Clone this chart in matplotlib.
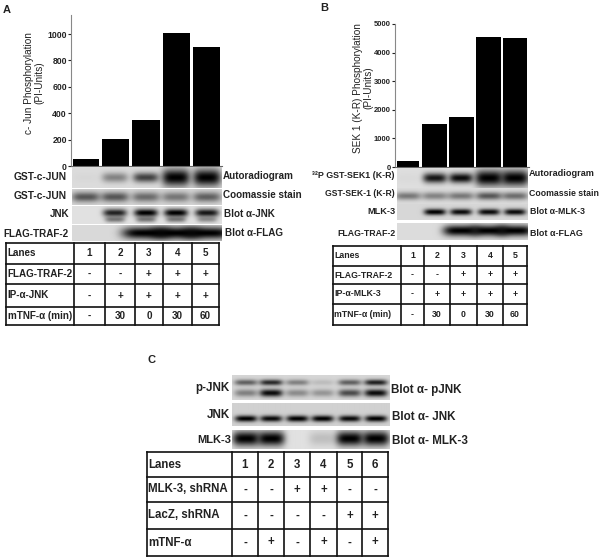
#! /usr/bin/env python

import numpy as np
import matplotlib
matplotlib.use("Agg")
import matplotlib.pyplot as plt

W, H = 602, 560

# bar values
jun_values = [50, 205, 350, 1005, 905]
sek_values = [220, 1500, 1750, 4560, 4520]
jun_ticks = [0, 200, 400, 600, 800, 1000]
sek_ticks = [0, 1000, 2000, 3000, 4000, 5000]

# band darkness per lane, 0 = no band, 1 = black
a_auto = [0.02, 0.4, 0.7, 0.0, 0.0]
a_auto_big = [0.0, 0.0, 0.0, 1.0, 1.0]
a_coom = [0.6, 0.6, 0.5, 0.45, 0.55]
a_jnk = [0.0, 0.85, 1.0, 1.0, 0.9]
a_jnk2 = [0.0, 0.45, 0.45, 0.45, 0.35]
a_flag = [0.0, 0.0, 1.0, 1.0, 1.0]

b_auto = [0.02, 0.9, 0.95, 0.0, 0.0]
b_auto_big = [0.0, 0.0, 0.0, 1.0, 1.0]
b_coom = [0.45, 0.4, 0.45, 0.6, 0.5]
b_mlk = [0.0, 1.0, 0.95, 0.95, 0.95]
b_flag = [0.0, 0.0, 1.0, 1.0, 1.0]

c_pjnk_up = [0.55, 0.8, 0.4, 0.12, 0.55, 0.85]
c_pjnk_low = [0.4, 0.95, 0.35, 0.3, 0.65, 0.95]
c_jnk = [1.0, 0.95, 1.0, 1.0, 0.95, 1.0]
c_mlk = [1.0, 1.0, 0.0, 0.15, 1.0, 1.0]

# table contents
a_labels = ["Lanes", "FLAG-TRAF-2", "IP-α-JNK", "mTNF-α (min)"]
a_rows = [["1", "2", "3", "4", "5"],
          ["-", "-", "+", "+", "+"],
          ["-", "+", "+", "+", "+"],
          ["-", "30", "0", "30", "60"]]
b_labels = ["Lanes", "FLAG-TRAF-2", "IP-α-MLK-3", "mTNF-α (min)"]
b_rows = [["1", "2", "3", "4", "5"],
          ["-", "-", "+", "+", "+"],
          ["-", "+", "+", "+", "+"],
          ["-", "30", "0", "30", "60"]]
c_labels = ["Lanes", "MLK-3, shRNA", "LacZ, shRNA", "mTNF-α"]
c_rows = [["1", "2", "3", "4", "5", "6"],
          ["-", "-", "+", "+", "-", "-"],
          ["-", "-", "-", "-", "+", "+"],
          ["-", "+", "-", "+", "-", "+"]]

plt.rcParams['font.family'] = ['Liberation Sans', 'DejaVu Sans']

fig = plt.figure(figsize=(W / 100, H / 100), dpi=100)
page = fig.add_axes([0, 0, 1, 1])
page.set_xlim(0, W)
page.set_ylim(H, 0)
page.axis('off')


def px_axes(x0, y0, x1, y1):
    return fig.add_axes([x0 / W, 1 - y1 / H, (x1 - x0) / W, (y1 - y0) / H])


def bar_panel(x0, x1, ytop, ybase, ymax, values, ticks, edges, ylabel, label_x, label_y, tick_fs):
    ax = px_axes(x0, ytop, x1, ybase)
    lefts = [e[0] for e in edges]
    widths = [e[1] - e[0] for e in edges]
    ax.bar(lefts, values, widths, align='edge', color='black')
    ax.set_xlim(x0, x1)
    ax.set_ylim(0, ymax)
    ax.set_xticks([])
    ax.set_yticks(ticks)
    ax.tick_params(axis='y', length=2, width=0.8, pad=1, labelsize=tick_fs, colors='#222222')
    for t in ax.get_yticklabels():
        t.set_fontweight('bold')
    for s in ['top', 'right']:
        ax.spines[s].set_visible(False)
    ax.spines['left'].set_color('#888888')
    ax.spines['bottom'].set_color('#666666')
    page.text(label_x, label_y, ylabel, rotation=90, ha='center', va='center',
              fontsize=7.2, color='#222222', linespacing=1.1)


def blot(x0, y0, x1, y1, lanes, bands, bg=0.87):
    # bands: list of (darkness per lane, centre as fraction of height, thickness, lane half width)
    w, h = int(x1 - x0), int(y1 - y0)
    img = np.full((h, w), bg)
    xx, yy = np.meshgrid(np.arange(w) + x0 + 0.5, np.arange(h) + 0.5)
    for dark, yc, thick, half in bands:
        for cx, d in zip(lanes, dark):
            blob = np.exp(-((xx - cx) / half) ** 4 - ((yy - yc * h) / thick) ** 2)
            img = img * (1 - d * blob)
    ax = px_axes(x0, y0, x1, y1)
    ax.imshow(img, cmap='gray', vmin=0, vmax=1, aspect='auto', interpolation='bilinear')
    ax.axis('off')


def table(xs, ys, labels, rows, fs):
    for x in xs:
        page.plot([x, x], [ys[0], ys[-1]], color='#111111', lw=1.2, solid_capstyle='projecting')
    for y in ys:
        page.plot([xs[0], xs[-1]], [y, y], color='#111111', lw=1.2, solid_capstyle='projecting')
    for i, lab in enumerate(labels):
        ym = (ys[i] + ys[i + 1]) / 2
        page.text(xs[0] + 1.5, ym, lab, ha='left', va='center', fontsize=fs,
                  fontweight='bold', color='#222222')
        for j, val in enumerate(rows[i]):
            page.text((xs[j + 1] + xs[j + 2]) / 2, ym, val, ha='center', va='center',
                      fontsize=fs, fontweight='bold', color='#222222')


def side_text(x, y, s, ha, fs=7.1):
    page.text(x, y, s, ha=ha, va='center', fontsize=fs, fontweight='bold', color='#222222')


# panel letters
side_text(3, 10, "A", 'left', 8)
side_text(320, 8, "B", 'left', 8)
side_text(147, 360, "C", 'left', 8)

# panel A
a_edges = [(73, 99), (102, 129), (132, 160), (163, 190), (193, 220)]
bar_panel(71, 222, 15, 166, 1144, jun_values, jun_ticks, a_edges,
          "c- Jun Phosphorylation\n(PI-Units)", 34, 83, 6.2)
a_lanes = [86, 115, 146, 176, 207]
blot(72, 167, 222, 188, a_lanes, [(a_auto, 0.5, 5, 13), (a_auto_big, 0.5, 8.5, 14)], 0.86)
blot(72, 189, 222, 205, a_lanes, [(a_coom, 0.5, 5, 14)], 0.84)
blot(72, 206, 222, 224, a_lanes, [(a_jnk, 0.38, 4, 12), (a_jnk2, 0.75, 3, 10)], 0.88)
blot(72, 225, 222, 241, a_lanes, [(a_flag, 0.5, 6, 24)], 0.85)
side_text(67, 177, "GST-c-JUN", 'right', 7.4)
side_text(67, 196, "GST-c-JUN", 'right', 7.4)
side_text(69, 214, "JNK", 'right')
side_text(69, 234, "FLAG-TRAF-2", 'right')
side_text(223, 176, "Autoradiogram", 'left')
side_text(223, 195, "Coomassie stain", 'left')
side_text(224, 214, "Blot α-JNK", 'left')
side_text(225, 233, "Blot α-FLAG", 'left')
table([6, 74, 105, 135, 163, 192, 219], [243, 264, 284, 307, 325], a_labels, a_rows, 7.1)

# panel B
b_edges = [(397, 419), (422, 447), (449, 474), (476, 501), (503, 527)]
bar_panel(395, 529, 24, 167, 5000, sek_values, sek_ticks, b_edges,
          "SEK 1 (K-R) Phosphorylation\n(PI-Units)", 363, 88, 5.5)
b_lanes = [408, 435, 461, 489, 515]
blot(397, 168, 528, 188, b_lanes, [(b_auto, 0.5, 5, 12), (b_auto_big, 0.5, 8, 14)], 0.87)
blot(397, 188, 528, 204, b_lanes, [(b_coom, 0.5, 4, 13)], 0.86)
blot(397, 204, 528, 220, b_lanes, [(b_mlk, 0.5, 3.2, 11)], 0.84)
blot(397, 223, 528, 240, b_lanes, [(b_flag, 0.45, 5.5, 18)], 0.86)
side_text(395, 175.5, "³²P GST-SEK1 (K-R)", 'right', 6.4)
side_text(395, 193, "GST-SEK-1 (K-R)", 'right', 6.2)
side_text(395, 212, "MLK-3", 'right', 6.6)
side_text(396, 233, "FLAG-TRAF-2", 'right', 6.3)
side_text(529, 174, "Autoradiogram", 'left', 6.6)
side_text(529, 193, "Coomassie stain", 'left', 6.3)
side_text(530, 212, "Blot α-MLK-3", 'left', 6.3)
side_text(530, 233, "Blot α-FLAG", 'left', 6.4)
table([333, 401, 424, 450, 477, 503, 527], [246, 266, 284, 304, 325], b_labels, b_rows, 6.3)

# panel C
c_lanes = [246, 271, 297, 322, 349, 375]
blot(232, 375, 389, 400, c_lanes, [(c_pjnk_up, 0.3, 3, 11.5), (c_pjnk_low, 0.72, 3.8, 11.5)], 0.84)
blot(232, 403, 389, 426, c_lanes, [(c_jnk, 0.68, 3.2, 11)], 0.82)
blot(232, 430, 389, 449, c_lanes, [(c_mlk, 0.45, 7.5, 13.5)], 0.88)
side_text(230, 388, "p-JNK", 'right', 8.4)
side_text(230, 415, "JNK", 'right', 8.4)
side_text(231, 440, "MLK-3", 'right', 8)
side_text(391, 390, "Blot α- pJNK", 'left', 8.4)
side_text(392, 417, "Blot α- JNK", 'left', 8.4)
side_text(392, 441, "Blot α- MLK-3", 'left', 8.4)
table([147, 232, 258, 284, 310, 337, 362, 388], [452, 477, 502, 529, 556], c_labels, c_rows, 8.3)

fig.savefig('out.png', dpi=100)
